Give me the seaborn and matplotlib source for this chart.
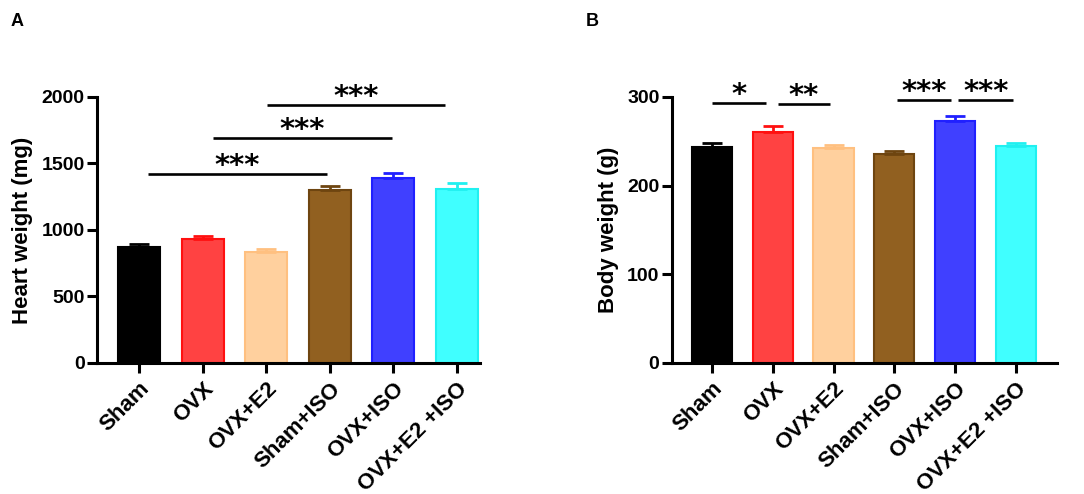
import matplotlib
matplotlib.use('Agg')
import matplotlib.pyplot as plt
import seaborn as sns

# groups and values
groups = ['Sham', 'OVX', 'OVX+E2', 'Sham+ISO', 'OVX+ISO', 'OVX+E2 +ISO']
heart_mean = [872, 932, 835, 1300, 1391, 1308]
heart_sem = [22, 24, 22, 31, 37, 45]
body_mean = [244, 261, 243, 236, 273, 245]
body_sem = [4, 6, 3, 3, 5, 3]

fill_colors = ['#000000', '#FF4242', '#FFD09E', '#916020', '#4040FF', '#40FFFF']
edge_colors = ['#000000', '#FF1010', '#FFC080', '#6E4510', '#2020FF', '#20F0F0']

# significance bars: (x start, x end, y, label)
heart_sig = [(0.14, 2.96, 1421, '***'), (1.16, 3.98, 1692, '***'), (2.01, 4.81, 1940, '***')]
body_sig = [(0.0, 0.89, 293, '*'), (1.08, 1.95, 292, '**'), (3.05, 3.93, 296.5, '***'), (4.05, 4.96, 296.5, '***')]

sns.set_style('ticks')
plt.rcParams['font.family'] = ['Liberation Sans', 'DejaVu Sans']
plt.rcParams['font.weight'] = 'bold'
plt.rcParams['text.color'] = 'black'
plt.rcParams['axes.labelcolor'] = 'black'
plt.rcParams['xtick.color'] = 'black'
plt.rcParams['ytick.color'] = 'black'
plt.rcParams['axes.edgecolor'] = 'black'

fig = plt.figure(figsize=(10.84, 4.94), dpi=100)
ax1 = fig.add_axes([0.0895, 0.2652, 0.3533, 0.5385])
ax2 = fig.add_axes([0.6199, 0.2652, 0.3552, 0.5385])


def draw_panel(ax, means, sems, ylim, yticks, ylabel, sigs, xlim):
    sns.barplot(x=groups, y=means, hue=groups, palette=fill_colors, legend=False,
                width=0.66, ax=ax, errorbar=None, saturation=1)
    for patch, ec in zip(ax.patches, edge_colors):
        patch.set_edgecolor(ec)
        patch.set_linewidth(1.5)
    for i in range(len(groups)):
        ax.errorbar(i, means[i], yerr=[[0], [sems[i]]], fmt='none',
                    ecolor=edge_colors[i], elinewidth=2, capsize=7.5, capthick=2, zorder=1)
    ax.set_ylim(*ylim)
    ax.set_xlim(*xlim)
    ax.set_yticks(yticks)
    ax.set_ylabel(ylabel, fontsize=16, fontweight='bold', labelpad=6)
    ax.set_xlabel('')
    for s in ['top', 'right']:
        ax.spines[s].set_visible(False)
    for s in ['left', 'bottom']:
        ax.spines[s].set_linewidth(2.2)
    ax.tick_params(axis='y', length=7, width=2.2, labelsize=14, pad=2)
    ax.tick_params(axis='x', length=7, width=2.2, labelsize=16, pad=4)
    ax.set_xticks(range(len(groups)))
    ax.set_xticklabels(groups, rotation=45, ha='right', rotation_mode='anchor', fontweight='bold')
    for lab in ax.get_yticklabels():
        lab.set_fontweight('bold')
    for x0, x1, y, lab in sigs:
        ax.plot([x0, x1], [y, y], color='black', lw=1.9, clip_on=False, solid_capstyle='butt')
        ax.text((x0 + x1) / 2, y, lab, ha='center', va='baseline', fontsize=21,
                family='DejaVu Sans', fontweight='bold', clip_on=False)


draw_panel(ax1, heart_mean, heart_sem, (0, 2000), [0, 500, 1000, 1500, 2000],
           'Heart weight (mg)', heart_sig, (-0.66, 5.36))
draw_panel(ax2, body_mean, body_sem, (0, 300), [0, 100, 200, 300],
           'Body weight (g)', body_sig, (-0.66, 5.68))

fig.text(0.0157, 0.957, 'A', fontsize=13, fontweight='bold', ha='center', va='center')
fig.text(0.546, 0.957, 'B', fontsize=13, fontweight='bold', ha='center', va='center')

fig.savefig('out.png', dpi=100)
